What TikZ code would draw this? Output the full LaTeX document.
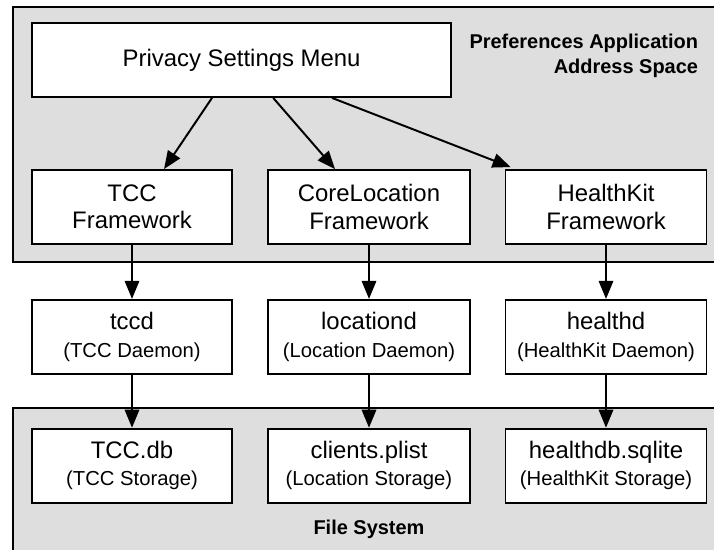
\documentclass[tikz,border=0pt]{standalone}
\usepackage{fontspec}
\setmainfont{Liberation Sans}
\usetikzlibrary{positioning,arrows.meta}
\definecolor{panel}{HTML}{DEDEDE}
\definecolor{ink}{HTML}{000000}
\newcommand\notefont{\fontsize{14.4}{17}\selectfont}

\begin{document}
\begin{tikzpicture}[font=\fontsize{17}{19.5}\selectfont,
  box/.style={draw=ink,fill=white,line width=1.3pt,minimum width=5.0cm,minimum height=1.85cm,align=center,inner sep=0pt},
  flow/.style={-{Triangle[length=0.45cm,width=0.36cm]},line width=1.4pt,draw=ink},
  tag/.style={font=\bfseries\fontsize{14.2}{17.5}\selectfont}]
  \useasboundingbox (0,0) rectangle (17.85,-13.75);
  % address space and file system panels, open at the right
  \fill[panel] (0.325,-0.175) rectangle (17.85,-6.55);
  \draw[line width=1.3pt] (17.85,-0.175) -- (0.325,-0.175) -- (0.325,-6.55) -- (17.85,-6.55);
  \fill[panel] (0.325,-10.2) rectangle (17.85,-13.75);
  \draw[line width=1.3pt] (17.85,-10.2) -- (0.325,-10.2) -- (0.325,-13.75);
  \node[tag,align=right,anchor=east] (prefslabel) at (17.575,-1.39) {Preferences Application\\Address Space};
  \node[tag] (fslabel) at (9.225,-13.225) {File System};

  \node[box,minimum width=10.475cm] (menu) at (6.04,-1.5) {Privacy Settings Menu};
  \node[box] (tccfw) at (3.3,-5.175) {TCC\\Framework};
  \node[box,minimum width=5.05cm] (clfw) at (9.225,-5.175) {CoreLocation\\Framework};
  \node[box,minimum width=5.025cm] (hkfw) at (15.15,-5.175) {HealthKit\\Framework};

  \node[box,below=1.35cm of tccfw] (tccd) {tccd\\{\notefont (TCC Daemon)}};
  \node[box,minimum width=5.05cm,below=1.35cm of clfw] (locd) {locationd\\{\notefont (Location Daemon)}};
  \node[box,minimum width=5.025cm,below=1.35cm of hkfw] (healthd) {healthd\\{\notefont (HealthKit Daemon)}};

  \node[box,below=1.325cm of tccd] (tccdb) {TCC.db\\{\notefont (TCC Storage)}};
  \node[box,minimum width=5.05cm,below=1.325cm of locd] (plist) {clients.plist\\{\notefont (Location Storage)}};
  \node[box,minimum width=5.025cm,below=1.325cm of healthd] (sqlite) {healthdb.sqlite\\{\notefont (HealthKit Storage)}};

  \draw[flow] ([xshift=-0.74cm]menu.south) -- ([xshift=0.8cm]tccfw.north);
  \draw[flow] ([xshift=0.79cm]menu.south) -- ([xshift=-0.85cm]clfw.north);
  \draw[flow] ([xshift=2.26cm]menu.south) -- ([xshift=0.15cm,yshift=0.05cm]hkfw.north west);
  \draw[flow] (tccfw.south) -- (tccd.north);
  \draw[flow] (clfw.south) -- (locd.north);
  \draw[flow] (hkfw.south) -- (healthd.north);
  \draw[flow] (tccd.south) -- (tccdb.north);
  \draw[flow] (locd.south) -- (plist.north);
  \draw[flow] (healthd.south) -- (sqlite.north);
\end{tikzpicture}
\end{document}
